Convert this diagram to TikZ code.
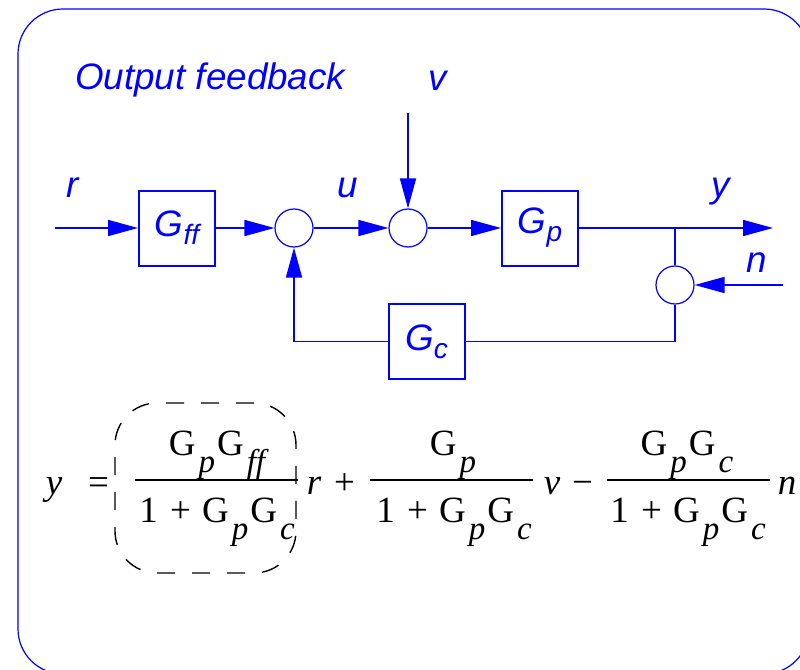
\RequirePackage{fix-cm}
\documentclass[tikz,border=0pt]{standalone}
\usepackage{amsmath}
\usepackage{fontspec}
\setmainfont{Liberation Serif}
\setsansfont{Liberation Sans}
\usetikzlibrary{positioning,arrows.meta}
\newcommand{\lblfont}{\fontsize{36.8}{40}\selectfont\sffamily\itshape}
\newcommand{\eqfont}{\fontsize{37}{42}\selectfont}
\newcommand{\blk}[2]{#1\raisebox{-8pt}{\fontsize{28}{30}\selectfont #2}}
\newcommand{\eqsub}[1]{\kern3pt\raisebox{-17pt}[0pt][0pt]{\fontsize{33}{33}\selectfont\itshape #1}\kern2pt}
\newcommand{\eqden}{1\kern3pt{} + \kern2pt G\eqsub{p}G\eqsub{c}}

\begin{document}
\begin{tikzpicture}[
  x=1pt, y=-1pt,
  block/.style={draw=blue, line width=2pt, minimum width=76pt, minimum height=75pt, inner sep=0pt, text=blue, font=\lblfont},
  sumpt/.style={draw=blue, circle, line width=1.2pt, minimum size=38pt, inner sep=0pt},
  sig/.style={text=blue, font=\lblfont, anchor=base west, inner sep=0pt},
  eq/.style={font=\eqfont, anchor=base, inner sep=0pt},
  bar/.style={draw, line width=2.2pt},
  wire/.style={draw=blue, line width=1.7pt},
  flow/.style={wire, -{Triangle[length=30pt, width=16pt]}},
]
\useasboundingbox (0,0) rectangle (800,669);
\draw[blue, line width=1.2pt, rounded corners=45pt] (18,9) rectangle (809,674);

% block diagram
\node[sig] (title) at (75,89) {Output feedback};
\node[block] (Gff) at (177,228) {\blk{G}{ff}};
\node[sumpt] (s1) at (294,228) {};
\node[sumpt] (s2) at (408,228) {};
\node[block] (Gp) at (540,228) {\blk{G}{p}};
\node[sumpt] (s3) at (675,285) {};
\node[block] (Gc) at (426.5,341.5) {\blk{G}{c}};

\coordinate (rin) at (55,228);
\coordinate (vin) at (408,113);
\coordinate (nin) at (783,285);
\coordinate (yout) at (773,228);
\coordinate (br) at (s3 |- Gp);

\draw[flow] (rin) -- (Gff);
\draw[flow] (Gff) -- (s1);
\draw[flow] (s1) -- (s2);
\draw[flow] (s2) -- (Gp);
\draw[flow] (Gp) -- (yout);
\draw[flow] (vin) -- (s2);
\draw[flow] (nin) -- (s3);
\draw[wire] (br) -- (s3);
\draw[wire] (s3) |- (Gc);
\draw[flow] (Gc) -| (s1);

\node[sig] (lr) at (66,197) {r};
\node[sig] (lu) at (337,197) {u};
\node[sig] (lv) at (428,90) {v};
\node[sig] (ly) at (711,197) {y};
\node[sig] (ln) at (746,272) {n};

% closed-loop relation
\node[draw, dash pattern=on 18pt off 17pt, line width=1.4pt, rounded corners=42pt, minimum width=181pt, minimum height=170pt] (hl) at (205.5,488) {};
\node[eq] (ey) at (54,494) {\itshape y};
\node[eq] (eeq) at (98.5,494) {=};

\coordinate (b1l) at (135,480);
\coordinate (b1r) at (298,480);
\draw[bar] (b1l) -- (b1r);
\node[eq] (num1) at (218,455) {G\eqsub{p}G\eqsub{ff}};
\node[eq] (den1) at (218,522) {\eqden};
\node[eq] (er) at (314,494) {\itshape r};
\node[eq] (eplus) at (344.5,494) {+};

\coordinate (b2l) at (370,480);
\coordinate (b2r) at (533,480);
\draw[bar] (b2l) -- (b2r);
\node[eq] (num2) at (454,455) {G\eqsub{p}};
\node[eq] (den2) at (455,522) {\eqden};
\node[eq] (ev) at (552,494) {\itshape v};
\node[eq] (eminus) at (582.5,494) {−};

\coordinate (b3l) at (607,480);
\coordinate (b3r) at (770,480);
\draw[bar] (b3l) -- (b3r);
\node[eq] (num3) at (688,455) {G\eqsub{p}G\eqsub{c}};
\node[eq] (den3) at (689,522) {\eqden};
\node[eq] (en) at (787,494) {\itshape n};
\end{tikzpicture}
\end{document}
